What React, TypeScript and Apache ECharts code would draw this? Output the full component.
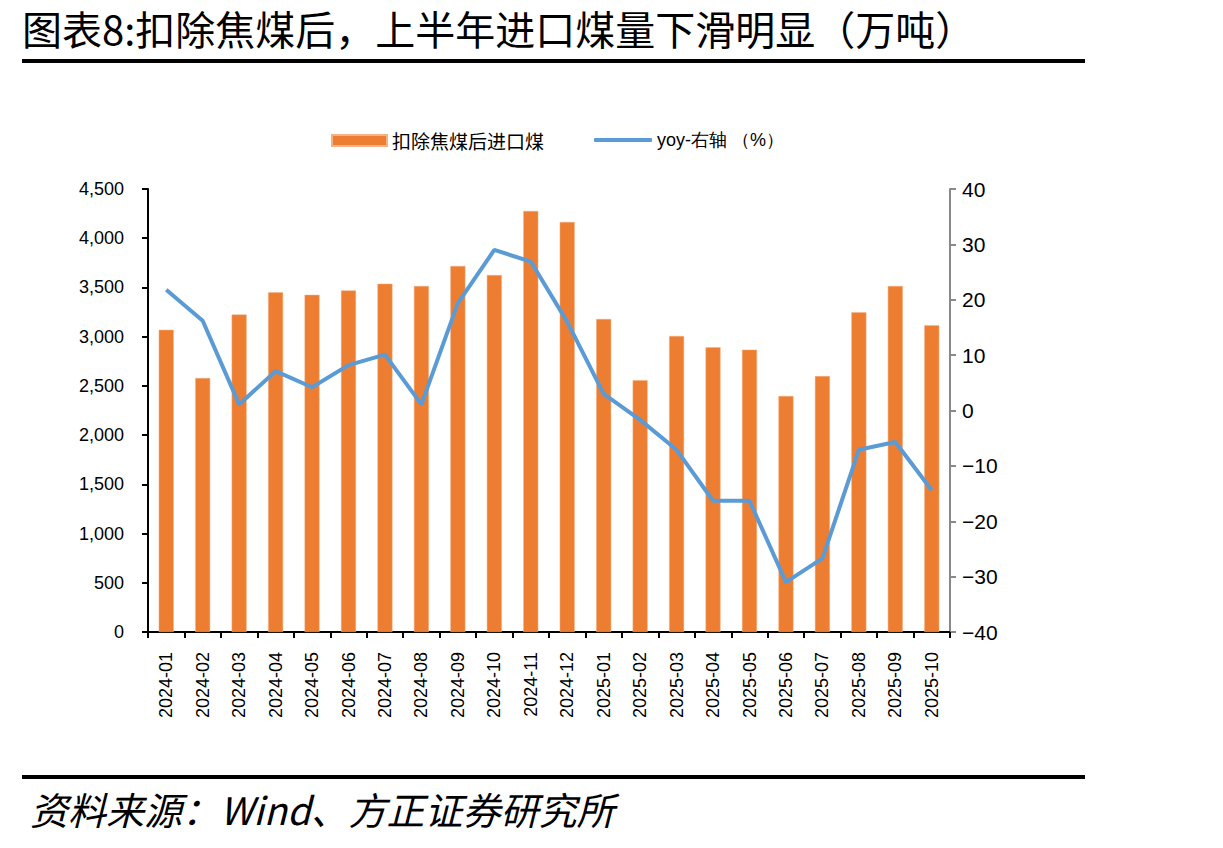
import React, { useEffect, useRef } from "react";
import * as echarts from "echarts";

// Monthly coal imports excluding coking coal (10k tonnes) and YoY change (%)
const months = [
  "2024-01", "2024-02", "2024-03", "2024-04", "2024-05", "2024-06",
  "2024-07", "2024-08", "2024-09", "2024-10", "2024-11", "2024-12",
  "2025-01", "2025-02", "2025-03", "2025-04", "2025-05", "2025-06",
  "2025-07", "2025-08", "2025-09", "2025-10",
];
const importsExCoking = [
  3070, 2580, 3225, 3450, 3425, 3470, 3538, 3515, 3718, 3626, 4277, 4165,
  3180, 2557, 3007, 2892, 2868, 2397, 2600, 3247, 3515, 3115,
];
const yoyPct = [
  21.8, 16.2, 1.1, 7.1, 4.2, 8.2, 10.1, 1.1, 19.4, 29.0, 26.9, 16.0,
  3.0, -1.7, -7.1, -16.3, -16.3, -31.0, -26.7, -7.1, -5.7, -14.4,
];
const barName = "扣除焦煤后进口煤";
const lineName = "yoy-右轴 （%）";
const titleText = "图表8:扣除焦煤后，上半年进口煤量下滑明显（万吨）";
const sourceText = "资料来源：Wind、方正证券研究所";

const CJK = '"Noto Sans CJK SC", "Noto Sans", sans-serif';
const LATIN = '"Liberation Sans", Arial, sans-serif';

export default function App() {
  const ref = useRef<HTMLDivElement>(null);

  useEffect(() => {
    if (!ref.current) return;
    const chart = echarts.init(ref.current, null, { renderer: "svg" });
    chart.setOption({
      animation: false,
      backgroundColor: "#ffffff",
      grid: { left: 148, right: 273, top: 189, bottom: 216, containLabel: false },
      legend: [
        {
          data: [barName],
          icon: "rect",
          left: 326,
          top: 126,
          itemWidth: 55,
          itemHeight: 11,
          itemGap: 8,
          textStyle: { fontFamily: CJK, fontSize: 19, color: "#000" },
        },
        {
          data: [lineName],
          icon: "roundRect",
          left: 589,
          top: 126,
          itemWidth: 58,
          itemHeight: 4,
          textStyle: { fontFamily: LATIN, fontSize: 18, color: "#000" },
        },
      ],
      xAxis: {
        type: "category",
        data: months,
        boundaryGap: true,
        axisLine: { show: true, lineStyle: { color: "#000", width: 2 } },
        axisTick: { show: true, alignWithLabel: false, interval: 0, length: 6, lineStyle: { color: "#000", width: 2 } },
        axisLabel: {
          interval: 0,
          rotate: 90,
          margin: 20,
          fontFamily: LATIN,
          fontSize: 18,
          color: "#000",
        },
      },
      yAxis: [
        {
          type: "value",
          min: 0,
          max: 4500,
          interval: 500,
          splitLine: { show: false },
          axisLine: { show: true, lineStyle: { color: "#000", width: 2 } },
          axisTick: { show: true, length: 6, lineStyle: { color: "#000", width: 2 } },
          axisLabel: {
            margin: 24,
            fontFamily: LATIN,
            fontSize: 18,
            color: "#000",
            formatter: (v: number) => v.toLocaleString("en-US"),
          },
        },
        {
          type: "value",
          min: -40,
          max: 40,
          interval: 10,
          position: "right",
          splitLine: { show: false },
          axisLine: { show: true, lineStyle: { color: "#898989", width: 2 } },
          axisTick: { show: true, length: 6, lineStyle: { color: "#898989", width: 2 } },
          axisLabel: {
            margin: 12,
            fontFamily: LATIN,
            fontSize: 21,
            color: "#000",
            formatter: (v: number) => (v < 0 ? "\u2212" + Math.abs(v) : String(v)),
          },
        },
      ],
      series: [
        {
          name: barName,
          type: "bar",
          data: importsExCoking,
          yAxisIndex: 0,
          barWidth: 15,
          itemStyle: { color: "#ED7D31", borderColor: "#F4B183", borderWidth: 0.5 },
        },
        {
          name: lineName,
          type: "line",
          data: yoyPct,
          yAxisIndex: 1,
          symbol: "none",
          lineStyle: { color: "#5B9BD5", width: 4 },
          itemStyle: { color: "#5B9BD5" },
        },
      ],
      graphic: [
        {
          type: "text",
          left: 22,
          top: 8,
          style: { text: titleText, fontFamily: CJK, fontSize: 40, fill: "#000" },
        },
        {
          type: "rect",
          shape: { x: 22, y: 59, width: 1063, height: 4 },
          style: { fill: "#000" },
        },
        {
          type: "rect",
          shape: { x: 22, y: 775, width: 1063, height: 4 },
          style: { fill: "#000" },
        },
        {
          type: "text",
          left: 30,
          top: 789,
          style: {
            text: sourceText,
            fontFamily: CJK,
            fontSize: 38,
            fontStyle: "italic",
            fill: "#000",
          },
        },
      ],
    });
    return () => chart.dispose();
  }, []);

  return (
    <div
      ref={ref}
      style={{ position: "absolute", left: 0, top: 0, width: 1223, height: 848, background: "#fff" }}
    />
  );
}
